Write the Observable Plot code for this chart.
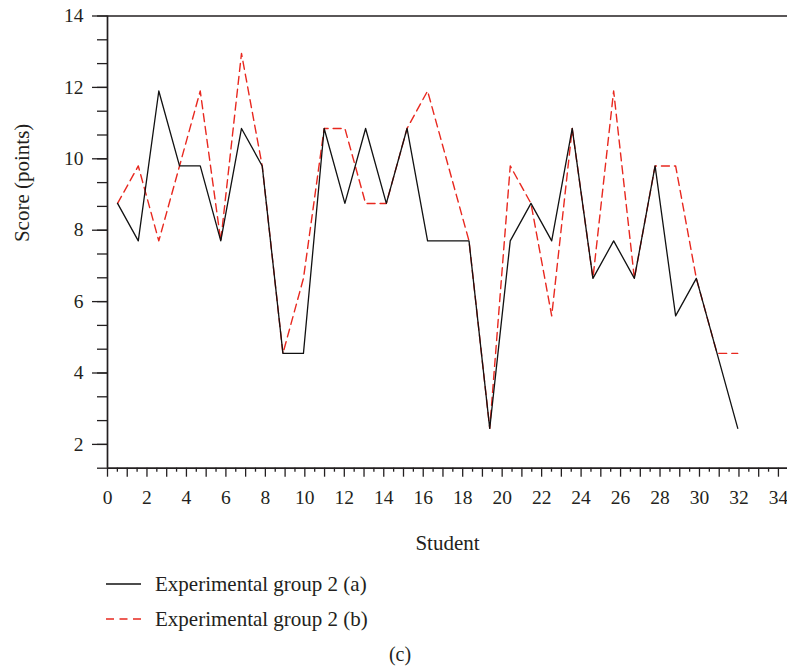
<!DOCTYPE html>
<html>
<head>
<meta charset="utf-8">
<script src="https://cdn.jsdelivr.net/npm/d3@7"></script>
<script src="https://cdn.jsdelivr.net/npm/@observablehq/plot@0.6"></script>
<style>
  html, body { margin: 0; padding: 0; background: #fff; }
  #wrap { position: relative; width: 787px; height: 669px; overflow: hidden; font-family: "Liberation Serif", "DejaVu Serif", serif; color: #231f20; }
  #legend { position: absolute; left: 0; top: 0; width: 787px; height: 669px; pointer-events: none; }
  .row { position: absolute; left: 106px; height: 30px; display: flex; align-items: center; font-size: 21px; }
  .row svg { margin-right: 14px; }
  #cap { position: absolute; left: 0; width: 800px; text-align: center; font-size: 20px; }
</style>
</head>
<body>
<div id="wrap">
  <div id="chart"></div>
  <div id="legend"></div>
</div>
<script>
// Student positions along the x axis (as drawn)
const studentX = [0.51, 1.56, 2.60, 3.65, 4.70, 5.74, 6.79, 7.84, 8.89, 9.93, 10.98, 12.03, 13.08, 14.13, 15.18, 16.22,
                  17.27, 18.32, 19.37, 20.41, 21.46, 22.51, 23.55, 24.60, 25.65, 26.70, 27.75, 28.79, 29.84, 30.89, 31.94];
// Scores, Experimental group 2 (a)
const groupA = [8.75, 7.7, 11.9, 9.8, 9.8, 7.7, 10.85, 9.8, 4.55, 4.55, 10.85, 8.75, 10.85, 8.75, 10.85, 7.7,
                7.7, 7.7, 2.45, 7.7, 8.75, 7.7, 10.85, 6.65, 7.7, 6.65, 9.8, 5.6, 6.65, 4.55, 2.45];
// Scores, Experimental group 2 (b)
const groupB = [8.75, 9.8, 7.7, 9.8, 11.9, 7.7, 12.95, 9.8, 4.55, 6.65, 10.85, 10.85, 8.75, 8.75, 10.85, 11.9,
                9.8, 7.7, 2.45, 9.8, 8.75, 5.6, 10.85, 6.65, 11.9, 6.65, 9.8, 9.8, 6.65, 4.55, 4.55];

const seriesNames = ["Experimental group 2 (a)", "Experimental group 2 (b)"];
const xTickLabels = [0, 2, 4, 6, 8, 10, 12, 14, 16, 18, 20, 22, 24, 26, 28, 30, 32, 34];
const xIntTicks = d3.range(0, 35, 1);
const xHalfTicks = d3.range(0.5, 34.5, 1);
const yTickLabels = [2, 4, 6, 8, 10, 12, 14];
const yMinorTicks = d3.range(2, 22).map(k => k * 2 / 3);
const xDomain = [0, 34.46];
const yDomain = [4 / 3, 14];
const xTitle = "Student";
const yTitle = "Score (points)";
const caption = "(c)";

const rows = studentX.map((x, i) => ({x, a: groupA[i], b: groupB[i]}));
const ink = "#231f20";
const red = "#e8281f";

const chart = Plot.plot({
  width: 787,
  height: 669,
  marginLeft: 107,
  marginRight: 0,
  marginTop: 15.5,
  marginBottom: 201.3,
  style: {fontFamily: "Liberation Serif, DejaVu Serif, serif", fontSize: "19.5px", color: ink, background: "#fff"},
  x: {domain: xDomain, label: null},
  y: {domain: yDomain, label: null},
  marks: [
    Plot.axisX(xHalfTicks, {tickSize: 4, tickFormat: () => "", strokeWidth: 1.3, label: null}),
    Plot.axisX(xIntTicks, {tickSize: 9, tickPadding: 12.5, strokeWidth: 1.3, label: null,
      tickFormat: d => xTickLabels.includes(d) ? String(d) : ""}),
    Plot.axisY(yMinorTicks, {tickSize: 10, tickFormat: () => "", strokeWidth: 1.3, label: null}),
    Plot.axisY(yTickLabels, {tickSize: 15, tickPadding: 9, strokeWidth: 1.3, label: null}),
    Plot.ruleX([xDomain[0]], {stroke: ink, strokeWidth: 1.7}),
    Plot.ruleY([yDomain[0]], {stroke: ink, strokeWidth: 1.7}),
    Plot.ruleY([yDomain[1]], {stroke: ink, strokeWidth: 1.7}),
    Plot.line(rows, {x: "x", y: "b", stroke: red, strokeWidth: 1.4, strokeDasharray: "8,5"}),
    Plot.line(rows, {x: "x", y: "a", stroke: "#111", strokeWidth: 1.3}),
    Plot.text([xTitle], {frameAnchor: "bottom", dy: 82, fontSize: 21, fill: ink}),
    Plot.text([yTitle], {frameAnchor: "left", dx: -85, rotate: -90, fontSize: 21, fill: ink})
  ]
});
document.getElementById("chart").appendChild(chart);

// Legend and caption
const legend = document.getElementById("legend");
const styles = [{stroke: "#111", dash: null}, {stroke: red, dash: "8,5.5"}];
const rowTops = [569, 604];
seriesNames.forEach((name, i) => {
  const row = document.createElement("div");
  row.className = "row";
  row.style.top = rowTops[i] + "px";
  row.innerHTML = `<svg width="35" height="4"><line x1="0" x2="35" y1="2" y2="2" stroke="${styles[i].stroke}" stroke-width="1.4" ${styles[i].dash ? `stroke-dasharray="${styles[i].dash}"` : ""}/></svg><span>${name}</span>`;
  legend.appendChild(row);
});
const cap = document.createElement("div");
cap.id = "cap";
cap.style.top = "643px";
cap.textContent = caption;
legend.appendChild(cap);
</script>
</body>
</html>
